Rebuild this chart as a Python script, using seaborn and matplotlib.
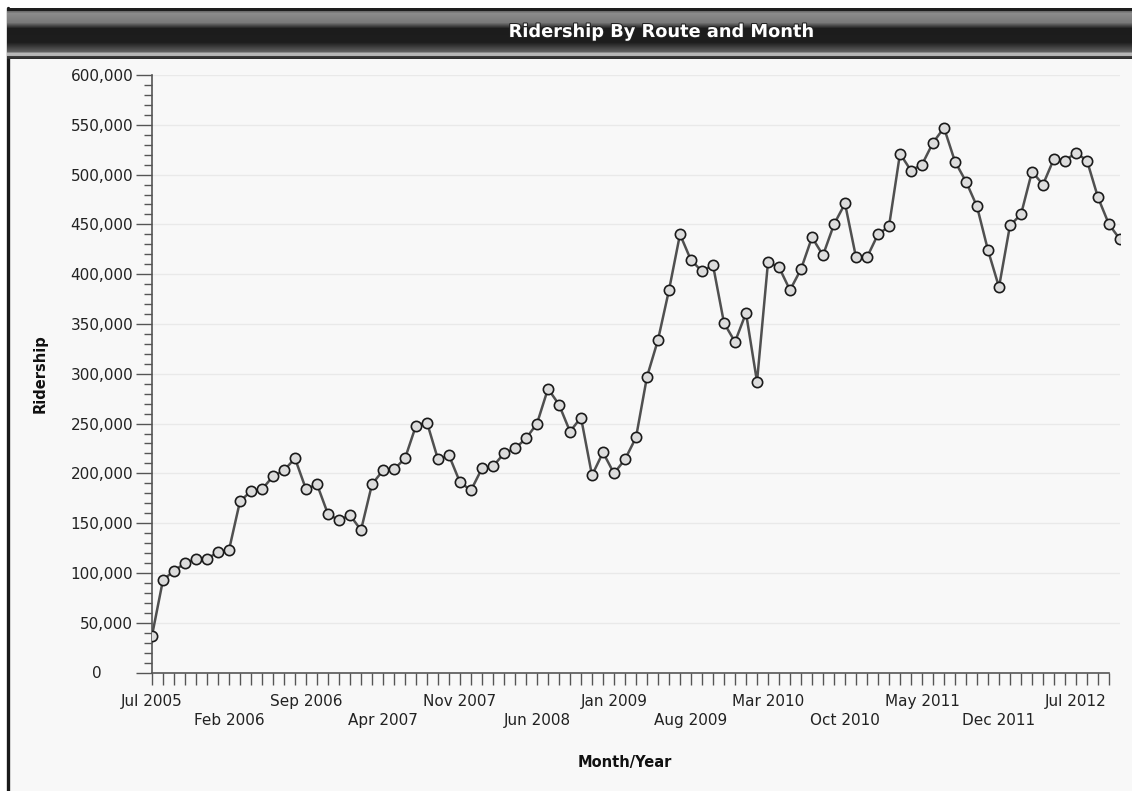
import numpy as np
import pandas as pd
import matplotlib
matplotlib.use("Agg")
import matplotlib.pyplot as plt
import matplotlib.patheffects as pe
import matplotlib.transforms as mtransforms
from matplotlib.lines import Line2D
from matplotlib.patches import Rectangle
from matplotlib.ticker import FixedLocator, MultipleLocator
import seaborn as sns

# ---- data -------------------------------------------------------------
months = pd.period_range("2005-07", periods=89, freq="M").strftime("%b %Y").tolist()

ridership = [
    37000, 93000, 102000, 110000, 114000, 114000, 121000, 123000, 172000, 182000,
    184000, 197000, 203000, 215000, 184000, 189000, 159000, 153000, 158000, 143000,
    189000, 203000, 204000, 215000, 248000, 251000, 214000, 218000, 191000, 183000,
    205000, 207000, 220000, 225000, 235000, 250000, 285000, 269000, 242000, 256000,
    198000, 221000, 200000, 214000, 236000, 297000, 334000, 384000, 440000, 414000,
    403000, 409000, 351000, 332000, 361000, 292000, 412000, 407000, 384000, 405000,
    437000, 419000, 450000, 471000, 417000, 417000, 440000, 448000, 521000, 504000,
    510000, 532000, 547000, 513000, 493000, 468000, 424000, 387000, 449000, 460000,
    503000, 490000, 516000, 514000, 522000, 514000, 477000, 450000, 435000,
]

# y-axis tick values
y_ticks = [0, 50000, 100000, 150000, 200000, 250000, 300000,
           350000, 400000, 450000, 500000, 550000, 600000]

# labelled months, alternating between an upper and a lower row
upper_row = ["Jul 2005", "Sep 2006", "Nov 2007", "Jan 2009", "Mar 2010", "May 2011", "Jul 2012"]
lower_row = ["Feb 2006", "Apr 2007", "Jun 2008", "Aug 2009", "Oct 2010", "Dec 2011"]

title = "Ridership By Route and Month"

df = pd.DataFrame({"Month": months, "Ridership": ridership})
df["pos"] = np.arange(len(df))

# ---- figure -------------------------------------------------------------
sns.set_theme(style="white")
plt.rcParams["font.family"] = ["DejaVu Sans"]

W, H = 1132, 791
fig = plt.figure(figsize=(W / 100, H / 100), dpi=100, facecolor="white")

# light panel with a dark frame on its left edge
fig.patches.append(Rectangle((8 / W, 0), 1 - 8 / W, (H - 8) / H, transform=fig.transFigure,
                             facecolor="#f8f8f8", edgecolor="none", zorder=-10))
fig.add_artist(Line2D([7.5 / W, 7.5 / W], [0, (H - 8) / H], color="#1a1a1a", lw=2.4,
                      transform=fig.transFigure, zorder=-5))

# header bar with a glossy vertical gradient
hax = fig.add_axes([7 / W, (H - 59) / H, 1 - 7 / W, 51 / H])
rows = np.arange(8, 59)
stops_y = [8, 10, 11, 13, 22, 28, 42, 51, 53, 55, 56, 58]
stops_v = [30, 30, 110, 140, 122, 28, 30, 95, 185, 180, 60, 45]
shade = np.interp(rows, stops_y, stops_v) / 255.0
grad = np.repeat(shade[:, None], 4, axis=1)
hax.imshow(np.dstack([grad, grad, grad]), aspect="auto", interpolation="bilinear",
           extent=[0, 1, 0, 1])
hax.set_axis_off()
fig.text(661 / W, 1 - 32 / H, title, color="white", fontsize=12.8, fontweight="bold",
         ha="center", va="center", zorder=5,
         path_effects=[pe.withStroke(linewidth=1.5, foreground="#222222")])

# plotting area
ax = fig.add_axes([152 / W, (H - 672.5) / H, (1120 - 152) / W, (672.5 - 75) / H])
ax.set_facecolor("#f8f8f8")

for gy in y_ticks[1:]:
    ax.axhline(gy, color="#e9e9e9", lw=1.0, zorder=0)

sns.lineplot(data=df, x="pos", y="Ridership", ax=ax, color="#505050", lw=1.8,
             marker="o", markersize=7.4, markerfacecolor="#dcdcdc",
             markeredgecolor="#1a1a1a", markeredgewidth=1.2, zorder=3)

ax.set_xlim(0, 88)
ax.set_ylim(0, 600000)

# y axis
ax.set_yticks(y_ticks)
ax.set_yticklabels([f"{v:,.0f}" for v in y_ticks])
ax.yaxis.set_minor_locator(MultipleLocator(10000))
ax.tick_params(axis="y", which="major", length=11.5, width=1.0, color="#555555",
               labelsize=11, labelcolor="#222222", pad=2, left=True)
ax.tick_params(axis="y", which="minor", length=5.8, width=1.0, color="#555555", left=True)
# the zero label sits further out from the axis
zero_lbl = ax.yaxis.get_major_ticks()[0].label1
zero_lbl.set_transform(zero_lbl.get_transform()
                       + mtransforms.ScaledTranslation(-32 / 100, 0, fig.dpi_scale_trans))

# x axis: a tick for every month, labels on every seventh month in two rows
pos_of = {m: i for i, m in enumerate(months)}
tick_pos = list(range(len(months) - 1))
tick_lab = [""] * len(tick_pos)
for m in upper_row:
    tick_lab[pos_of[m]] = m
for m in lower_row:
    tick_lab[pos_of[m]] = "\n" + m
ax.xaxis.set_major_locator(FixedLocator(tick_pos))
ax.set_xticklabels(tick_lab)
ax.tick_params(axis="x", which="major", length=8.6, width=1.0, color="#555555",
               labelsize=11, labelcolor="#222222", pad=7, bottom=True)
for t in ax.get_xticklabels():
    t.set_linespacing(1.3)

for side in ("top", "right"):
    ax.spines[side].set_visible(False)
for side in ("left", "bottom"):
    ax.spines[side].set_color("#555555")
    ax.spines[side].set_linewidth(1.2)
ax.spines["bottom"].set_bounds(0, len(months) - 2)

ax.set_xlabel("Month/Year", fontsize=10.5, fontweight="bold", color="#111111")
ax.set_ylabel("Ridership", fontsize=10.5, fontweight="bold", color="#111111")
ax.xaxis.set_label_coords((625 - 152) / 968, -(755 - 672.5) / 597.5)
ax.yaxis.set_label_coords(-0.108, 0.5)

fig.savefig("out.png", dpi=100, facecolor=fig.get_facecolor())
